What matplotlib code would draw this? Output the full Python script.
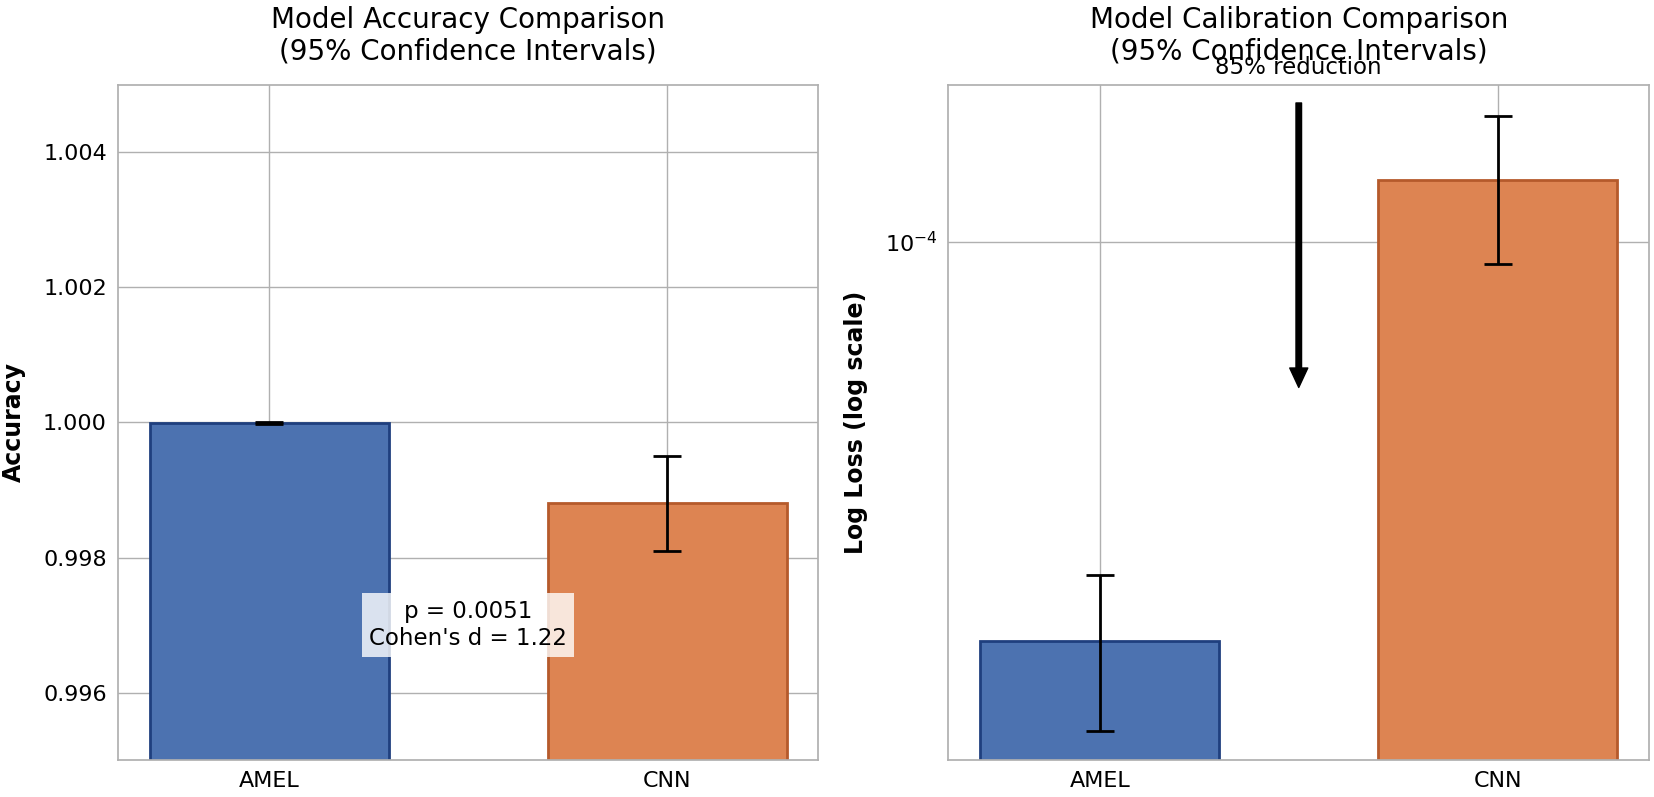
import matplotlib.pyplot as plt

# data
models = ["AMEL", "CNN"]
accuracy = [0.99999, 0.9988]
acc_ci_low = [0.99998, 0.9981]
acc_ci_high = [1.00000, 0.9995]

log_loss = [1.94e-5, 1.29e-4]
loss_ci_low = [1.34e-5, 9.14e-5]
loss_ci_high = [2.55e-5, 1.68e-4]

p_value = 0.0051
cohens_d = 1.22
reduction_pct = 85

colors = ["#4C72B0", "#DD8452"]
edge_colors = ["#1f3f7e", "#b55a2b"]


def err_from_ci(vals, lo, hi):
    return [[v - l for v, l in zip(vals, lo)], [h - v for v, h in zip(vals, hi)]]


def style_axes(ax):
    ax.set_axisbelow(True)
    ax.grid(True, color="#b0b0b0", linewidth=1.0)
    for s in ax.spines.values():
        s.set_color("#b0b0b0")
        s.set_linewidth(1.25)
    ax.tick_params(axis="both", which="both", length=0, labelsize=16, pad=8)


plt.rcParams["font.family"] = "DejaVu Sans"
fig, (ax1, ax2) = plt.subplots(1, 2, figsize=(16.54, 7.97), dpi=100)
fig.subplots_adjust(left=0.0713, right=0.997, bottom=0.0464, top=0.8934, wspace=0.1856)

x = list(range(len(models)))

# Accuracy panel
ax1.bar(x, accuracy, width=0.6, color=colors, edgecolor=edge_colors, linewidth=2,
        yerr=err_from_ci(accuracy, acc_ci_low, acc_ci_high),
        error_kw=dict(ecolor="black", elinewidth=2, capsize=10, capthick=2))
ax1.set_xticks(x)
ax1.set_xticklabels(models)
ax1.set_ylim(0.995, 1.005)
ax1.set_yticks([0.996, 0.998, 1.000, 1.002, 1.004])
ax1.set_ylabel("Accuracy", fontsize=17, fontweight="bold", labelpad=12)
ax1.set_title("Model Accuracy Comparison\n(95% Confidence Intervals)", fontsize=20, pad=18)
ax1.text(0.5, 0.2, f"p = {p_value:.4f}\nCohen's d = {cohens_d:.2f}", transform=ax1.transAxes,
         ha="center", va="center", fontsize=16.5,
         bbox=dict(boxstyle="square,pad=0.3", facecolor="white", edgecolor="none", alpha=0.8))
style_axes(ax1)

# Calibration panel
ax2.bar(x, log_loss, width=0.6, color=colors, edgecolor=edge_colors, linewidth=2,
        yerr=err_from_ci(log_loss, loss_ci_low, loss_ci_high),
        error_kw=dict(ecolor="black", elinewidth=2, capsize=10, capthick=2))
ax2.set_yscale("log")
ax2.set_ylim(1.19e-5, 1.906e-4)
ax2.set_xlim(-0.38, 1.38)
ax2.set_xticks(x)
ax2.set_xticklabels(models)
ax2.set_ylabel("Log Loss (log scale)", fontsize=17, fontweight="bold", labelpad=12)
ax2.set_title("Model Calibration Comparison\n(95% Confidence Intervals)", fontsize=20, pad=18)

arrow_top = 1.77e-4
arrow_tip = 5.5e-5
ax2.annotate("", xy=(0.5, arrow_tip), xytext=(0.5, arrow_top),
             arrowprops=dict(facecolor="black", edgecolor="black", width=4, headwidth=13,
                             headlength=14, shrink=0))
ax2.text(0.5, 2.05e-4, f"{reduction_pct}% reduction", ha="center", va="center", fontsize=16.5,
         clip_on=False)
style_axes(ax2)
ax2.grid(False, which="minor")

plt.savefig("out.png", dpi=100)
